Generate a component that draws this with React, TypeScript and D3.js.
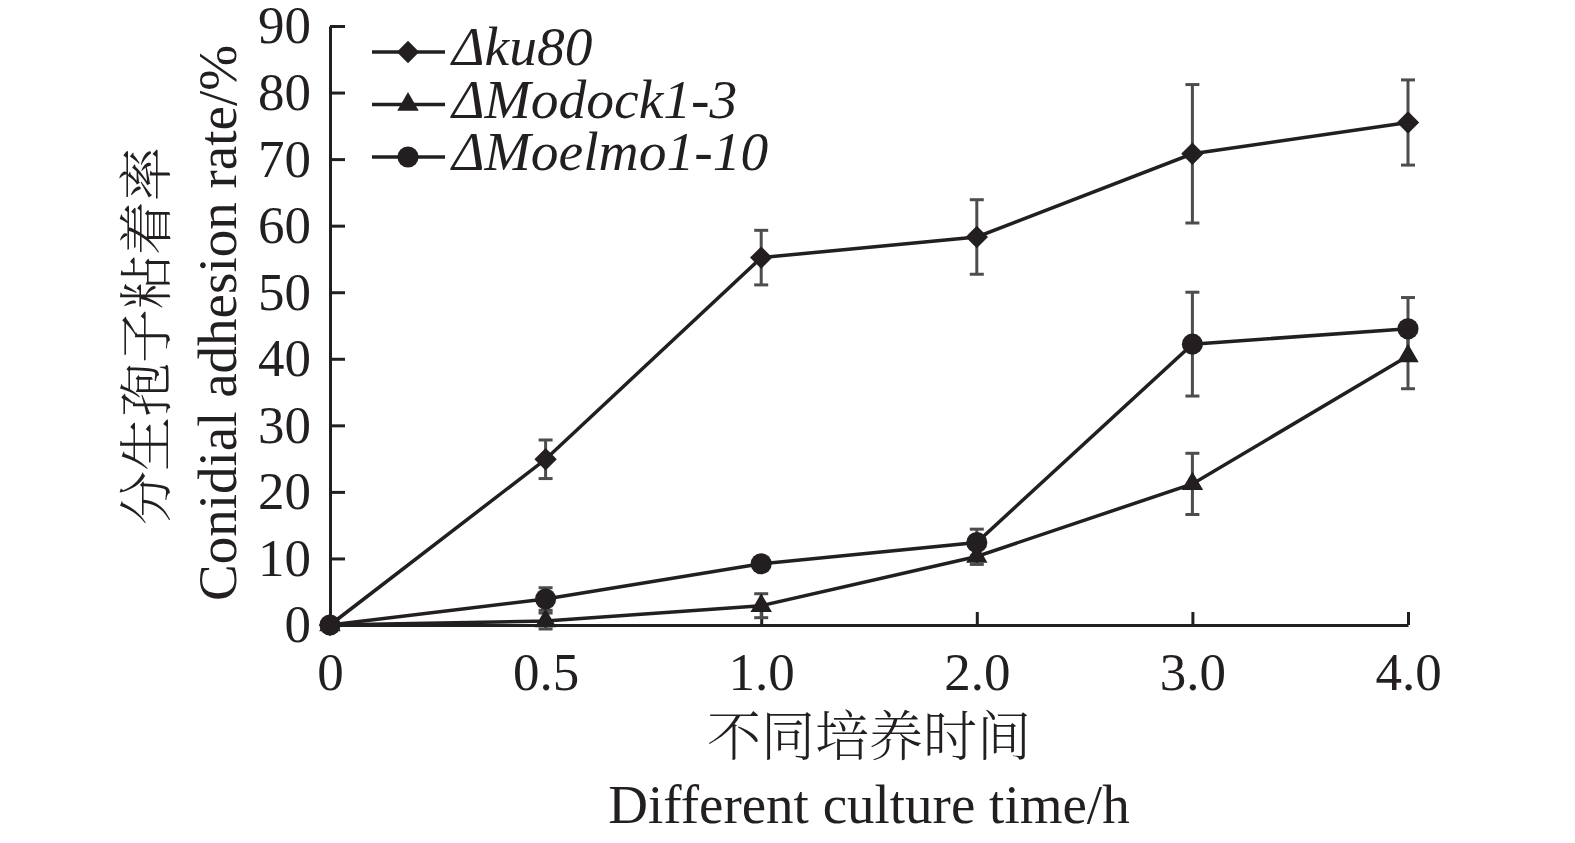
import React, { useEffect, useRef } from 'react';
import * as d3 from 'd3';

// culture times (categorical, evenly spaced on the axis)
const categories = ['0', '0.5', '1.0', '2.0', '3.0', '4.0'];
const yTicks = [0, 10, 20, 30, 40, 50, 60, 70, 80, 90];

// Δku80
const ku80 = [0, 24.9, 55.2, 58.3, 70.8, 75.5];
const ku80Err = [0, 2.9, 4.1, 5.6, 10.4, 6.4];
// ΔModock1-3
const modock = [0, 0.6, 2.9, 10.3, 21.2, 40.4];
const modockErr = [0, 1.2, 1.8, 1.2, 4.6, 4.9];
// ΔMoelmo1-10
const moelmo = [0, 3.9, 9.2, 12.4, 42.2, 44.5];
const moelmoErr = [0, 1.7, 0.3, 2.0, 7.8, 4.7];

const seriesNames = ['\u0394ku80', '\u0394Modock1-3', '\u0394Moelmo1-10'];

interface Series {
  name: string;
  values: number[];
  errors: number[];
  symbol: 'diamond' | 'triangle' | 'circle';
}

const series: Series[] = [
  { name: seriesNames[0], values: ku80, errors: ku80Err, symbol: 'diamond' },
  { name: seriesNames[1], values: modock, errors: modockErr, symbol: 'triangle' },
  { name: seriesNames[2], values: moelmo, errors: moelmoErr, symbol: 'circle' },
];

const WIDTH = 1575;
const HEIGHT = 843;
const INK = '#231f20';
const ERR = '#4d4d4d';
const SERIF = '"Liberation Serif", "Times New Roman", serif';
const CJK = '"Noto Serif CJK SC", "Noto Sans CJK SC", sans-serif';

const symbolPath = (kind: Series['symbol']) => {
  if (kind === 'diamond') return d3.symbol().type(d3.symbolSquare).size(250)();
  if (kind === 'triangle') return d3.symbol().type(d3.symbolTriangle).size(200)();
  return d3.symbol().type(d3.symbolCircle).size(350)();
};

const App: React.FC = () => {
  const ref = useRef<SVGSVGElement | null>(null);

  useEffect(() => {
    const svg = d3.select(ref.current);
    svg.selectAll('*').remove();

    const x = d3.scalePoint<string>().domain(categories).range([330, 1408]).padding(0);
    const y = d3.scaleLinear().domain([0, 90]).range([625, 26]);

    // axes
    const yAxis = svg
      .append('g')
      .attr('transform', `translate(${x(categories[0])},0)`)
      .call(d3.axisLeft(y).tickValues(yTicks).tickSizeInner(-15).tickSizeOuter(0).tickPadding(19));
    const xAxis = svg
      .append('g')
      .attr('transform', `translate(0,${y(0)})`)
      .call(d3.axisBottom(x).tickSizeInner(-13).tickSizeOuter(0).tickPadding(27));

    [yAxis, xAxis].forEach((g) => {
      g.selectAll('path, line').attr('stroke', INK).attr('stroke-width', 3);
      g.selectAll('text')
        .attr('fill', INK)
        .style('font-family', SERIF)
        .style('font-size', '53px');
    });
    xAxis.selectAll('.tick').filter((d) => d === categories[0]).select('line').remove();

    const plot = svg.append('g');

    // error bars
    series.forEach((s) => {
      const g = plot.append('g');
      s.values.forEach((v, i) => {
        const e = s.errors[i];
        if (e <= 0) return;
        const cx = x(categories[i]) as number;
        g.append('line')
          .attr('x1', cx).attr('x2', cx)
          .attr('y1', y(v - e)).attr('y2', y(v + e))
          .attr('stroke', ERR).attr('stroke-width', 3);
        [v - e, v + e].forEach((b) => {
          g.append('line')
            .attr('x1', cx - 7).attr('x2', cx + 7)
            .attr('y1', y(b)).attr('y2', y(b))
            .attr('stroke', ERR).attr('stroke-width', 3);
        });
      });
    });

    const line = d3
      .line<number>()
      .x((_, i) => x(categories[i]) as number)
      .y((d) => y(d));

    series.forEach((s) => {
      plot.append('path')
        .attr('d', line(s.values))
        .attr('fill', 'none')
        .attr('stroke', INK)
        .attr('stroke-width', 3.5);
    });

    series.forEach((s) => {
      plot.append('g')
        .selectAll('path')
        .data(s.values)
        .enter()
        .append('path')
        .attr('d', symbolPath(s.symbol))
        .attr('fill', INK)
        .attr('transform', (d, i) =>
          `translate(${x(categories[i])},${y(d)})${s.symbol === 'diamond' ? ' rotate(45)' : ''}`);
    });

    // legend
    const legend = svg.append('g');
    series.forEach((s, i) => {
      const ly = 52 + i * 52.5;
      const row = legend.append('g').attr('transform', `translate(0,${ly})`);
      row.append('line')
        .attr('x1', 372).attr('x2', 445).attr('y1', 0).attr('y2', 0)
        .attr('stroke', INK).attr('stroke-width', 3.5);
      row.append('path')
        .attr('d', symbolPath(s.symbol))
        .attr('fill', INK)
        .attr('transform', `translate(408,0)${s.symbol === 'diamond' ? ' rotate(45)' : ''}`);
      row.append('text')
        .attr('x', 452).attr('y', 13)
        .attr('fill', INK)
        .style('font-family', SERIF)
        .style('font-style', 'italic')
        .style('font-size', '55.5px')
        .text(s.name);
    });

    // axis titles
    svg.append('text')
      .attr('transform', 'translate(166,336) rotate(-90)')
      .attr('text-anchor', 'middle')
      .attr('fill', INK)
      .style('font-family', CJK)
      .style('font-weight', 300)
      .style('font-size', '54px')
      .text('分生孢子粘着率');
    svg.append('text')
      .attr('transform', 'translate(236,323) rotate(-90)')
      .attr('text-anchor', 'middle')
      .attr('fill', INK)
      .style('font-family', SERIF)
      .style('font-size', '55px')
      .text('Conidial adhesion rate/%');
    svg.append('text')
      .attr('x', 869).attr('y', 756)
      .attr('text-anchor', 'middle')
      .attr('fill', INK)
      .style('font-family', CJK)
      .style('font-weight', 300)
      .style('font-size', '54px')
      .text('不同培养时间');
    svg.append('text')
      .attr('x', 869).attr('y', 823)
      .attr('text-anchor', 'middle')
      .attr('fill', INK)
      .style('font-family', SERIF)
      .style('font-size', '55px')
      .text('Different culture time/h');
  }, []);

  return (
    <svg
      ref={ref}
      width={WIDTH}
      height={HEIGHT}
      style={{ position: 'absolute', left: 0, top: 0, background: '#fff' }}
    />
  );
};

export default App;
